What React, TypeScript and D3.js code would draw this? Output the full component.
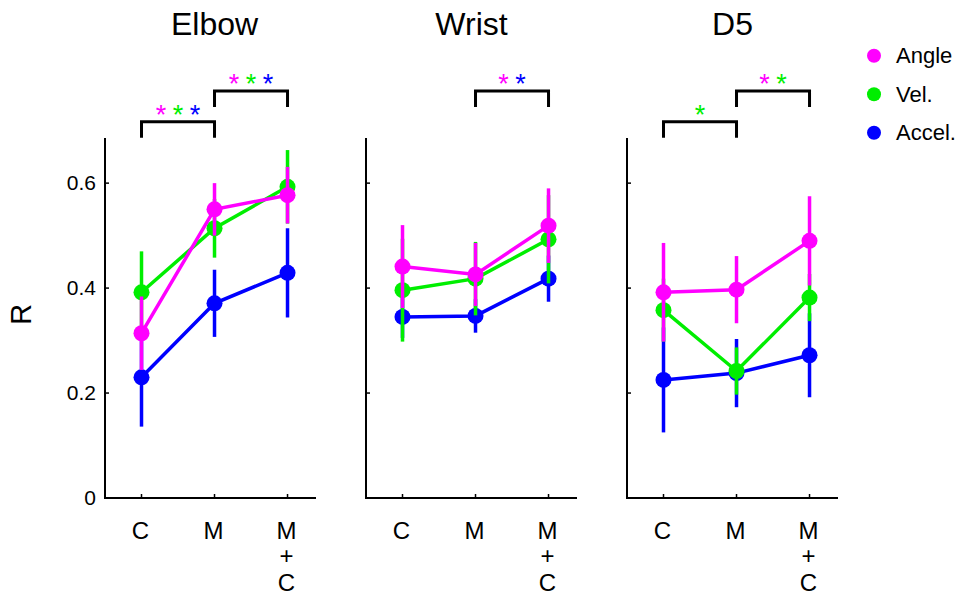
import React from "react";
import * as d3 from "d3";

const panels = ["Elbow", "Wrist", "D5"];
const conditions = ["C", "M", "M+C"];
const seriesNames = ["Angle", "Vel.", "Accel."];
const seriesColors = ["#ff00ff", "#00ee00", "#0000ff"];

// per panel, per condition
const angleMean = [[0.314, 0.55, 0.577], [0.441, 0.426, 0.519], [0.392, 0.397, 0.49]];
const angleErr = [[0.07, 0.05, 0.054], [0.079, 0.06, 0.071], [0.094, 0.064, 0.085]];
const velMean = [[0.392, 0.514, 0.593], [0.396, 0.418, 0.493], [0.358, 0.242, 0.382]];
const velErr = [[0.078, 0.056, 0.07], [0.098, 0.07, 0.084], [0.06, 0.045, 0.045]];
const accMean = [[0.23, 0.371, 0.429], [0.345, 0.347, 0.418], [0.225, 0.238, 0.272]];
const accErr = [[0.094, 0.064, 0.085], [0.04, 0.032, 0.044], [0.1, 0.065, 0.08]];

const yTicks = [0, 0.2, 0.4, 0.6];

// significance brackets: panel, from, to, level, starred series indices
const bracketPanel = [0, 0, 1, 2, 2];
const bracketFrom = [0, 1, 1, 0, 1];
const bracketTo = [1, 2, 2, 1, 2];
const bracketLevel = [0, 1, 1, 0, 1];
const bracketStars = [[0, 1, 2], [0, 1, 2], [0, 2], [1], [0, 1]];

const means = [angleMean, velMean, accMean];
const errs = [angleErr, velErr, accErr];

const W = 961;
const H = 596;
const panelLeft = [105, 366, 627];
const panelWidth = 211;
const yBottom = 498;
const yTop = 138;
const font = "'Liberation Sans', Arial, Helvetica, sans-serif";

export default function App() {
  const y = d3.scaleLinear().domain([0, 0.686]).range([yBottom, yTop]);
  const drawOrder = [2, 1, 0];
  const levelY = [121.7, 91];
  const legDrop = 16;
  const starSize = 27;
  const starGap = 17;

  return (
    <svg
      width={W}
      height={H}
      viewBox={`0 0 ${W} ${H}`}
      style={{ position: "absolute", left: 0, top: 0, background: "#fff" }}
      fontFamily={font}
    >
      <rect x={0} y={0} width={W} height={H} fill="#fff" />
      {panels.map((name, p) => {
        const x0 = panelLeft[p];
        const x = d3.scaleLinear().domain([0.5, 3.39]).range([x0, x0 + panelWidth]);
        const cx = (i: number) => x(i + 1);
        return (
          <g key={name}>
            <text x={x0 + panelWidth / 2 + (p === 0 ? 4 : 0)} y={35} fontSize={32} textAnchor="middle" fill="#000">
              {name}
            </text>
            {/* axes */}
            <line x1={x0} x2={x0} y1={yTop} y2={yBottom + 1} stroke="#000" strokeWidth={2} />
            <line x1={x0 - 1} x2={x0 + panelWidth} y1={yBottom} y2={yBottom} stroke="#000" strokeWidth={2} />
            {yTicks.map((t) => (
              <g key={t}>
                <line x1={x0} x2={x0 + 4} y1={y(t)} y2={y(t)} stroke="#000" strokeWidth={1.5} />
                {p === 0 && (
                  <text x={x0 - 9} y={y(t) + 7} fontSize={21} textAnchor="end" fill="#000">
                    {t === 0 ? "0" : d3.format(".1f")(t)}
                  </text>
                )}
              </g>
            ))}
            {conditions.map((c, i) => (
              <g key={c}>
                <line x1={cx(i)} x2={cx(i)} y1={yBottom} y2={yBottom - 4} stroke="#000" strokeWidth={1.5} />
                {c.split("+").map((part, k, arr) => (
                  <React.Fragment key={k}>
                    <text x={cx(i) - 1} y={539 + k * 52} fontSize={24} textAnchor="middle" fill="#000">
                      {part}
                    </text>
                    {k < arr.length - 1 && (
                      <text x={cx(i) - 1} y={564 + k * 52} fontSize={24} textAnchor="middle" fill="#000">
                        +
                      </text>
                    )}
                  </React.Fragment>
                ))}
              </g>
            ))}
            {/* data */}
            {drawOrder.map((s) => {
              const line = d3
                .line<number>()
                .x((_, i) => cx(i))
                .y((v) => y(v));
              return (
                <g key={s}>
                  <path d={line(means[s][p]) || ""} fill="none" stroke={seriesColors[s]} strokeWidth={3.5} />
                  {means[s][p].map((v, i) => (
                    <line
                      key={"e" + i}
                      x1={cx(i)}
                      x2={cx(i)}
                      y1={y(v - errs[s][p][i])}
                      y2={y(v + errs[s][p][i])}
                      stroke={seriesColors[s]}
                      strokeWidth={3.5}
                    />
                  ))}
                  {means[s][p].map((v, i) => (
                    <circle key={"m" + i} cx={cx(i)} cy={y(v)} r={8} fill={seriesColors[s]} />
                  ))}
                </g>
              );
            })}
            {/* brackets */}
            {bracketPanel.map((bp, b) => {
              if (bp !== p) return null;
              const xa = cx(bracketFrom[b]);
              const xb = cx(bracketTo[b]);
              const ly = levelY[bracketLevel[b]];
              const stars = bracketStars[b];
              const mid = (xa + xb) / 2;
              const starY = ly - 12.4;
              return (
                <g key={"b" + b}>
                  <path
                    d={`M${xa},${ly + legDrop} V${ly} H${xb} V${ly + legDrop}`}
                    fill="none"
                    stroke="#000"
                    strokeWidth={3}
                  />
                  {stars.map((s, k) => (
                    <text
                      key={k}
                      x={mid + (k - (stars.length - 1) / 2) * starGap}
                      y={starY + 0.55 * starSize}
                      fontSize={starSize}
                      textAnchor="middle"
                      fill={seriesColors[s]}
                    >
                      *
                    </text>
                  ))}
                </g>
              );
            })}
          </g>
        );
      })}
      {/* y label */}
      <text x={0} y={0} fontSize={29} textAnchor="middle" fill="#000" transform={`translate(31,${y(0.35)}) rotate(-90)`}>
        R
      </text>
      {/* legend */}
      {seriesNames.map((n, s) => (
        <g key={n}>
          <circle cx={874} cy={55.7 + s * 38.5} r={7} fill={seriesColors[s]} />
          <text x={896} y={55.7 + s * 38.5 + 7.5} fontSize={22} fill="#000">
            {n}
          </text>
        </g>
      ))}
    </svg>
  );
}
